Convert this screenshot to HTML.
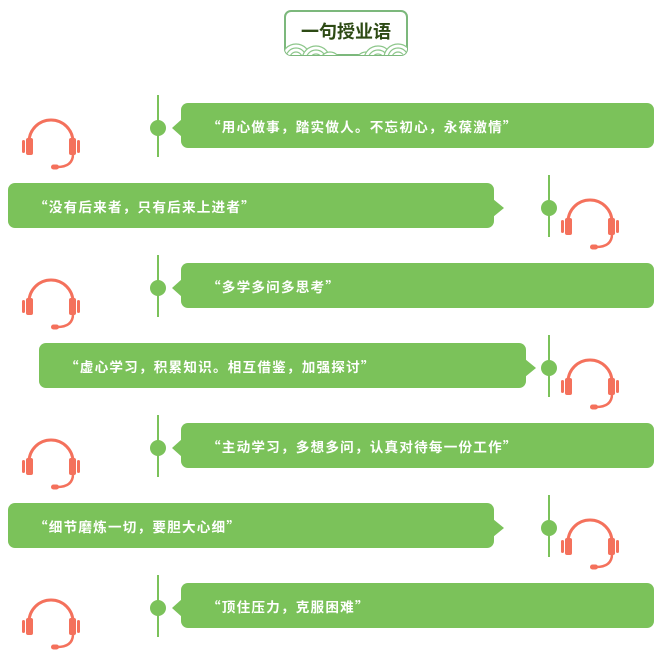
<!DOCTYPE html>
<html><head><meta charset="utf-8"><style>
html,body{margin:0;padding:0;background:#fff;}
svg{display:block;}
text{font-family:"Liberation Sans","Noto Sans CJK SC",sans-serif;}
.q{font-family:"Noto Sans CJK SC",sans-serif;}
</style></head><body>
<svg width="666" height="653" viewBox="0 0 666 653" xmlns="http://www.w3.org/2000/svg">
<defs>
<g id="hs" fill="#f4715c" stroke="none">
<path d="M-22 8 A22 22 0 0 1 22 8" fill="none" stroke="#f4715c" stroke-width="3"/>
<rect x="-29" y="6" width="3" height="13" rx="1.5"/>
<rect x="-25" y="4" width="7" height="17" rx="2"/>
<rect x="18" y="4" width="7" height="17" rx="2"/>
<rect x="26" y="6" width="3" height="13" rx="1.5"/>
<path d="M22 20 Q22 33 6 33" fill="none" stroke="#f4715c" stroke-width="2.5"/>
<rect x="0" y="30.5" width="8" height="5" rx="2.5"/>
</g>
<clipPath id="tc"><rect x="285" y="11" width="122" height="44" rx="6"/></clipPath>
</defs>
<rect x="285" y="11" width="122" height="44" rx="6" fill="#fff" stroke="#7cb87c" stroke-width="2"/>
<g clip-path="url(#tc)" fill="#fff" stroke="#8cc68a" stroke-width="1.2">
<circle cx="296" cy="58" r="14"/><circle cx="296" cy="58" r="10"/><circle cx="296" cy="58" r="6"/>
<circle cx="316" cy="60" r="14"/><circle cx="316" cy="60" r="10"/><circle cx="316" cy="60" r="6"/>
<circle cx="330" cy="62" r="10"/><circle cx="330" cy="62" r="6"/>
<circle cx="366" cy="62" r="10"/><circle cx="366" cy="62" r="6"/>
<circle cx="378" cy="60" r="14"/><circle cx="378" cy="60" r="10"/><circle cx="378" cy="60" r="6"/>
<circle cx="398" cy="58" r="14"/><circle cx="398" cy="58" r="10"/><circle cx="398" cy="58" r="6"/>
</g>
<text x="346" y="38" text-anchor="middle" font-size="18" font-weight="bold" fill="#2d4a14">一句授业语</text>

<g fill="#7bc25a">
<rect x="157" y="95" width="2" height="62"/><circle cx="158" cy="128" r="8"/>
<rect x="181" y="103" width="473" height="45" rx="7"/><path d="M182 119 L172 128 L182 137Z"/>
<rect x="548" y="175" width="2" height="62"/><circle cx="549" cy="208" r="8"/>
<rect x="8" y="183" width="486" height="45" rx="7"/><path d="M493 199 L504 208 L493 217Z"/>
<rect x="157" y="255" width="2" height="62"/><circle cx="158" cy="288" r="8"/>
<rect x="181" y="263" width="473" height="45" rx="7"/><path d="M182 279 L172 288 L182 297Z"/>
<rect x="548" y="335" width="2" height="62"/><circle cx="549" cy="368" r="8"/>
<rect x="39" y="343" width="487" height="45" rx="7"/><path d="M525 359 L536 368 L525 377Z"/>
<rect x="157" y="415" width="2" height="62"/><circle cx="158" cy="448" r="8"/>
<rect x="181" y="423" width="473" height="45" rx="7"/><path d="M182 439 L172 448 L182 457Z"/>
<rect x="548" y="495" width="2" height="62"/><circle cx="549" cy="528" r="8"/>
<rect x="8" y="503" width="486" height="45" rx="7"/><path d="M493 519 L504 528 L493 537Z"/>
<rect x="157" y="575" width="2" height="62"/><circle cx="158" cy="608" r="8"/>
<rect x="181" y="583" width="473" height="45" rx="7"/><path d="M182 599 L172 608 L182 617Z"/>
</g>

<use href="#hs" x="51" y="134"/>
<use href="#hs" x="590" y="214"/>
<use href="#hs" x="51" y="294"/>
<use href="#hs" x="590" y="374"/>
<use href="#hs" x="51" y="454"/>
<use href="#hs" x="590" y="534"/>
<use href="#hs" x="51" y="614"/>

<g fill="#fff" font-size="13.6" font-weight="bold" letter-spacing="1.2">
<text x="207" y="132"><tspan class="q">“</tspan>用心做事，踏实做人。不忘初心，永葆激情<tspan class="q">”</tspan></text>
<text x="34" y="212"><tspan class="q">“</tspan>没有后来者，只有后来上进者<tspan class="q">”</tspan></text>
<text x="207" y="292"><tspan class="q">“</tspan>多学多问多思考<tspan class="q">”</tspan></text>
<text x="65" y="372"><tspan class="q">“</tspan>虚心学习，积累知识。相互借鉴，加强探讨<tspan class="q">”</tspan></text>
<text x="207" y="452"><tspan class="q">“</tspan>主动学习，多想多问，认真对待每一份工作<tspan class="q">”</tspan></text>
<text x="34" y="532"><tspan class="q">“</tspan>细节磨炼一切，要胆大心细<tspan class="q">”</tspan></text>
<text x="207" y="612"><tspan class="q">“</tspan>顶住压力，克服困难<tspan class="q">”</tspan></text>
</g>
</svg>
</body></html>
